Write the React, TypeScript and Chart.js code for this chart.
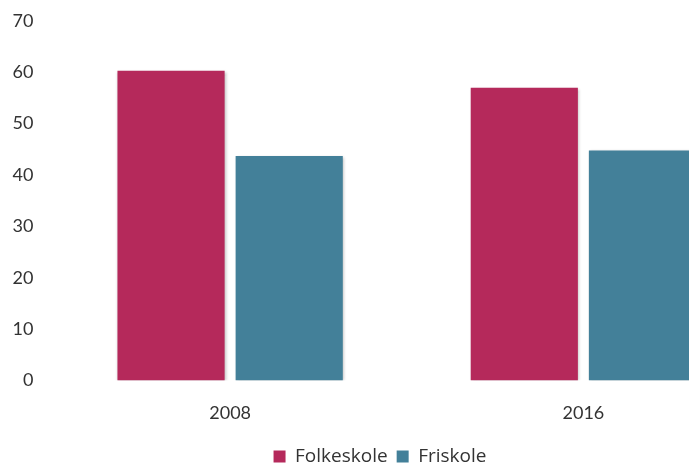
import React, { useEffect, useRef } from "react";
import { Chart, registerables } from "chart.js";

Chart.register(...registerables);

const categories = ["2008", "2016"];
const folkeskole = [60.3, 57.0];
const friskole = [43.7, 44.8];
const yTicks = [0, 10, 20, 30, 40, 50, 60, 70];

const shadowPlugin = {
  id: "barShadow",
  beforeDatasetsDraw(chart: any) {
    const ctx = chart.ctx;
    ctx.save();
    ctx.shadowColor = "rgba(0,0,0,0.28)";
    ctx.shadowBlur = 3;
    ctx.shadowOffsetX = 1;
    ctx.shadowOffsetY = 1;
  },
  afterDatasetsDraw(chart: any) {
    chart.ctx.restore();
  },
};

export default function App() {
  const ref = useRef<HTMLCanvasElement | null>(null);
  useEffect(() => {
    if (!ref.current) return;
    const chart = new Chart(ref.current, {
      type: "bar",
      data: {
        labels: categories,
        datasets: [
          {
            label: "Folkeskole",
            data: folkeskole,
            backgroundColor: "#B5295B",
            categoryPercentage: 0.669,
            barPercentage: 0.907,
          },
          {
            label: "Friskole",
            data: friskole,
            backgroundColor: "#438099",
            categoryPercentage: 0.669,
            barPercentage: 0.907,
          },
        ],
      },
      plugins: [shadowPlugin],
      options: {
        animation: false,
        responsive: false,
        devicePixelRatio: 1,
        layout: { padding: { top: 21, right: 26, left: 0, bottom: 0 } },
        plugins: {
          tooltip: { enabled: false },
          legend: {
            position: "bottom",
            labels: {
              boxWidth: 12,
              boxHeight: 12,
              padding: 9,
              color: "#333333",
              font: { family: "Open Sans", size: 19 },
            },
          },
        },
        scales: {
          x: {
            grid: { display: false },
            border: { display: false },
            ticks: {
              color: "#333333",
              padding: 14,
              font: { family: "Lato", size: 18 },
            },
          },
          y: {
            min: 0,
            max: 70,
            grid: { display: false, tickLength: 20 },
            border: { display: false },
            afterFit: (scale: any) => {
              scale.width = 53.5;
            },
            afterBuildTicks: (scale: any) => {
              scale.ticks = yTicks.map((v) => ({ value: v }));
            },
            ticks: {
              color: "#333333",
              padding: 0,
              font: { family: "Lato", size: 18 },
            },
          },
        },
      },
    });
    return () => chart.destroy();
  }, []);
  return (
    <div
      style={{
        position: "fixed",
        left: 0,
        top: 0,
        width: 689,
        height: 463,
        overflow: "hidden",
        background: "#fff",
      }}
    >
      <canvas ref={ref} width={786} height={476} style={{ display: "block" }} />
    </div>
  );
}
